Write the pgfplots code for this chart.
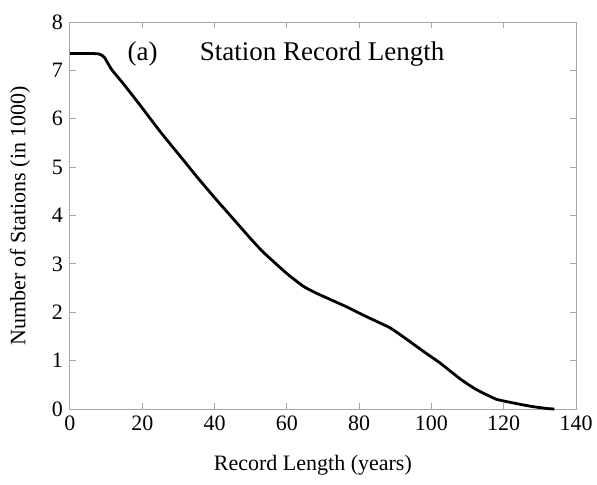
\documentclass[border=0pt]{standalone}
\usepackage{fontspec}
\setmainfont{Liberation Serif}
\usepackage{pgfplots}
\pgfplotsset{compat=1.18}
\begin{document}
\begin{tikzpicture}
\useasboundingbox (-35pt,-37.5pt) rectangle (263.5pt,204.5pt);
\begin{axis}[
  at={(0,0)}, anchor=south west,
  scale only axis, width=253pt, height=193.5pt,
  xmin=0, xmax=140, ymin=0, ymax=8,
  xtick={0,20,40,60,80,100,120,140}, ytick={0,1,2,3,4,5,6,7,8},
  xticklabels={0,20,40,60,80,100,120,140},
  yticklabels={0,1,2,3,4,5,6,7,8},
  tick align=inside,
  major tick length=3pt,
  axis line style={gray!70, line width=0.5pt},
  tick style={gray!70, line width=0.5pt},
  tick label style={font=\fontsize{11}{13}\selectfont},
  label style={font=\fontsize{11}{13}\selectfont},
  xlabel={Record Length (years)},
  ylabel={Number of Stations (in 1000)},
  xlabel style={at={(axis description cs:0.48,-0.145)}, anchor=center},
  ylabel style={at={(axis description cs:-0.099,0.5)}, anchor=center},
  clip=false,
]
\addplot[black, line width=1.4pt, smooth, tension=0.3] coordinates {
(0,7.35) (5,7.35) (8,7.34) (9.5,7.27) (11.5,7.02) (14.7,6.73) (19.4,6.28)
(25,5.73) (31,5.18) (35,4.81) (40,4.37) (46,3.86) (50,3.52)
(53.5,3.24) (60,2.80) (64.5,2.54) (68,2.40) (76.6,2.11) (82,1.91)
(88.5,1.68) (93,1.45) (98,1.18) (102.4,0.95) (108,0.62) (112,0.42)
(115.4,0.29) (118,0.20) (121,0.15) (125,0.09) (128,0.05) (132,0.01) (134,0)
};
\node[anchor=west, font=\fontsize{13.5}{15}\selectfont] at (axis cs:14,7.34) {(a)};
\node[anchor=west, font=\fontsize{13.5}{15}\selectfont] at (axis cs:34,7.34) {Station Record Length};
\end{axis}
\end{tikzpicture}
\end{document}
